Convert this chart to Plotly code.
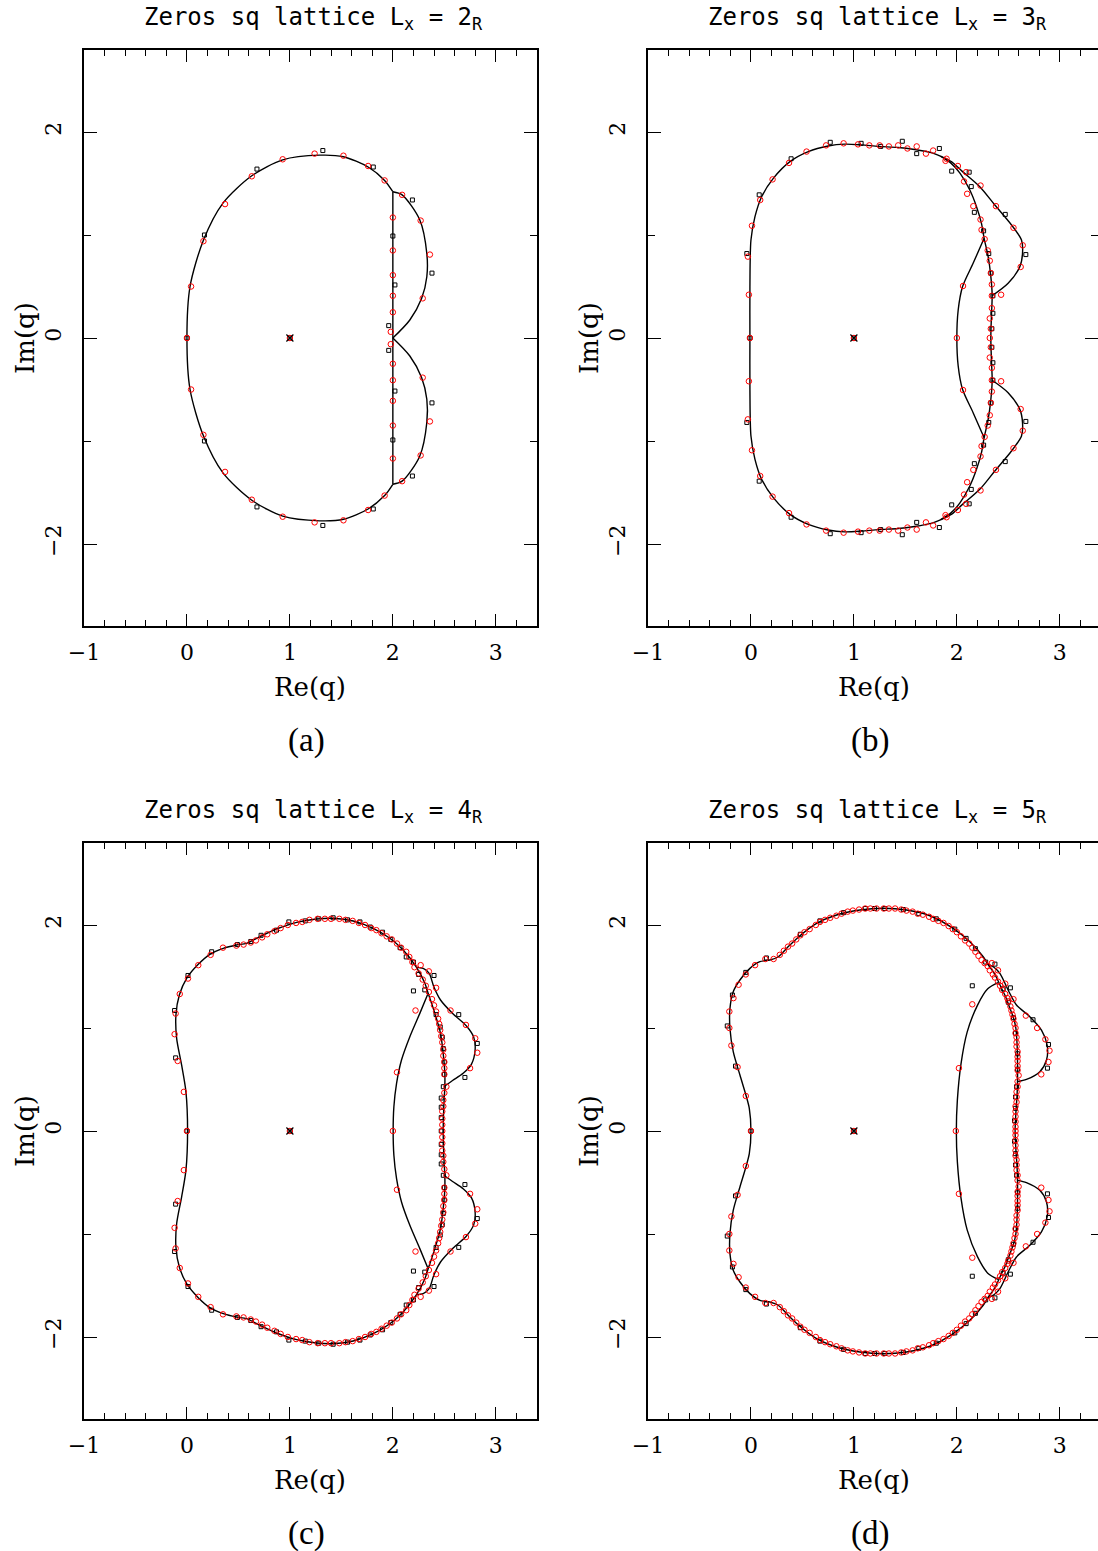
import plotly.graph_objects as go

W, H = 1098, 1551

# ---------------- data (upper half-plane; zeros come in conjugate pairs) ----------------
# Panel (a)  L_x = 2_R
A_OUTER = [(2.00, 1.42), (1.92, 1.53), (1.76, 1.66), (1.52, 1.76), (1.29, 1.775), (0.93, 1.73),
           (0.63, 1.575), (0.35, 1.31), (0.16, 0.95), (0.03, 0.50), (0.00, 0.00)]
A_LOBE = [(2.00, 1.42), (2.09, 1.39), (2.26, 1.15), (2.33, 0.82), (2.33, 0.595), (2.28, 0.385),
          (2.165, 0.175), (2.00, 0.00)]
A_CHORD = [(2.00, 1.42), (2.00, 0.00)]
A_RED = [(0.04, 0.50), (0.16, 0.94), (0.37, 1.30), (0.63, 1.57), (0.93, 1.735), (1.24, 1.79),
         (1.52, 1.77), (1.76, 1.67), (1.92, 1.53), (2.09, 1.39), (2.27, 1.14), (2.36, 0.81),
         (2.29, 0.385), (2.00, 1.17), (2.00, 0.85), (2.00, 0.61), (2.00, 0.41), (2.00, 0.25),
         (1.98, 0.06)]
A_RED_REAL = [0.00, 1.00]
A_BLK = [(1.32, 1.82), (0.68, 1.64), (0.17, 1.00), (1.81, 1.66), (2.19, 1.34), (2.38, 0.63),
         (2.00, 0.99), (2.02, 0.515), (1.96, 0.12)]
A_BLK_REAL = [0.00, 1.00]

# Panel (b)  L_x = 3_R
B_MAIN = [(1.84, 1.765), (1.75, 1.80), (1.59, 1.83), (1.43, 1.85), (1.24, 1.86), (1.07, 1.875),
          (0.91, 1.882), (0.75, 1.864), (0.557, 1.809), (0.379, 1.712), (0.217, 1.55),
          (0.104, 1.372), (0.039, 1.178), (0.00, 0.951), (-0.01, 0.498), (-0.01, 0.00)]
B_INNER = [(1.84, 1.765), (1.94, 1.70), (2.03, 1.60), (2.126, 1.437), (2.191, 1.275),
           (2.239, 1.113), (2.265, 0.968), (2.304, 0.79), (2.327, 0.628), (2.343, 0.417),
           (2.337, 0.24), (2.33, 0.00)]
B_OUTER = [(1.84, 1.765), (1.95, 1.71), (2.05, 1.62), (2.223, 1.469), (2.369, 1.291),
           (2.531, 1.097), (2.628, 0.951), (2.638, 0.822), (2.612, 0.693), (2.498, 0.531),
           (2.343, 0.41)]
B_LOBE = [(2.265, 0.968), (2.158, 0.725), (2.055, 0.498), (2.013, 0.272), (2.00, 0.00)]
B_RED = [(-0.02, 0.42), (-0.03, 0.79), (0.01, 1.09), (0.09, 1.34), (0.21, 1.54), (0.37, 1.70),
         (0.54, 1.81), (0.73, 1.87), (0.90, 1.89), (1.04, 1.88), (1.15, 1.87), (1.25, 1.87),
         (1.34, 1.86), (1.43, 1.87), (1.52, 1.84), (1.61, 1.86), (1.70, 1.79), (1.77, 1.82),
         (1.89, 1.72), (1.90, 1.74), (2.01, 1.67), (2.09, 1.61), (2.23, 1.48), (2.38, 1.28),
         (2.55, 1.07), (2.64, 0.90), (2.62, 0.69), (2.43, 0.42), (2.07, 1.52), (2.10, 1.40),
         (2.16, 1.28), (2.23, 1.15), (2.24, 1.05), (2.27, 0.96), (2.30, 0.85), (2.32, 0.75),
         (2.33, 0.63), (2.34, 0.52), (2.34, 0.41), (2.34, 0.29), (2.32, 0.19), (2.33, 0.09),
         (2.06, 0.505)]
B_RED_REAL = [-0.01, 1.00, 2.00, 2.32]
B_BLK = [(-0.04, 0.82), (0.08, 1.39), (0.39, 1.74), (0.77, 1.90), (1.07, 1.89), (1.26, 1.86),
         (1.47, 1.91), (1.61, 1.79), (1.83, 1.84), (1.95, 1.62), (2.12, 1.61), (2.14, 1.47),
         (2.17, 1.22), (2.26, 1.04), (2.31, 0.82), (2.33, 0.63), (2.35, 0.41), (2.35, 0.24),
         (2.34, 0.09), (2.47, 1.20), (2.67, 0.81)]
B_BLK_REAL = [-0.01, 1.00]

# Panel (c)  L_x = 4_R
C_MAIN = [(2.489, 0.00), (2.495, 0.236), (2.505, 0.437), (2.505, 0.56), (2.489, 0.754),
          (2.463, 0.948), (2.408, 1.142), (2.343, 1.337), (2.311, 1.434), (2.230, 1.589),
          (2.100, 1.757), (1.971, 1.871), (1.809, 1.968), (1.615, 2.039), (1.421, 2.065),
          (1.259, 2.058), (1.065, 2.026), (0.871, 1.961), (0.709, 1.887), (0.579, 1.822),
          (0.482, 1.806), (0.353, 1.773), (0.223, 1.715), (0.110, 1.618), (-0.003, 1.482),
          (-0.074, 1.320), (-0.107, 1.126), (-0.100, 0.900), (-0.052, 0.641), (-0.010, 0.382),
          (0.006, 0.00)]
C_OUTER = [(2.230, 1.589), (2.295, 1.579), (2.353, 1.531), (2.398, 1.401), (2.463, 1.272),
           (2.586, 1.136), (2.715, 1.019), (2.786, 0.909), (2.799, 0.786), (2.764, 0.650),
           (2.683, 0.560), (2.58, 0.49), (2.505, 0.437)]
C_LOBE = [(2.343, 1.337), (2.262, 1.142), (2.165, 0.916), (2.084, 0.689), (2.036, 0.463),
          (2.010, 0.236), (2.003, 0.00)]
C_RED = [(-0.03, 0.38), (-0.09, 0.68), (-0.12, 0.94), (-0.11, 1.14), (-0.07, 1.33), (0.01, 1.48),
         (0.11, 1.61), (0.23, 1.71), (0.35, 1.78), (0.48, 1.80), (0.55, 1.81), (0.62, 1.83),
         (0.67, 1.85), (0.73, 1.88), (0.78, 1.91), (0.85, 1.94), (0.91, 1.97), (0.98, 2.00),
         (1.06, 2.02), (1.12, 2.03), (1.19, 2.05), (1.27, 2.06), (1.34, 2.06), (1.40, 2.06),
         (1.48, 2.06), (1.54, 2.05), (1.61, 2.04), (1.67, 2.02), (1.73, 2.00), (1.79, 1.97),
         (1.84, 1.95), (1.89, 1.92), (1.94, 1.89), (1.99, 1.86), (2.04, 1.82), (2.08, 1.78),
         (2.13, 1.74), (2.16, 1.69), (2.19, 1.64), (2.21, 1.59), (2.25, 1.53), (2.29, 1.47),
         (2.32, 1.41), (2.35, 1.35), (2.38, 1.28), (2.40, 1.22), (2.42, 1.16), (2.44, 1.09),
         (2.45, 1.04), (2.46, 0.98), (2.47, 0.92), (2.48, 0.86), (2.49, 0.79), (2.49, 0.73),
         (2.50, 0.67), (2.50, 0.61), (2.50, 0.55), (2.52, 0.43), (2.50, 0.37), (2.49, 0.30),
         (2.49, 0.24), (2.48, 0.19), (2.48, 0.12), (2.48, 0.06),
         (2.27, 1.61), (2.35, 1.55), (2.42, 1.39), (2.56, 1.17), (2.71, 1.03), (2.80, 0.90),
         (2.82, 0.76), (2.75, 0.61), (2.22, 1.17), (2.04, 0.57)]
C_RED_REAL = [0.00, 1.00, 2.00, 2.48]
C_BLK = [(-0.12, 1.17), (-0.11, 0.71), (0.01, 1.51), (0.24, 1.74), (0.49, 1.81), (0.62, 1.84),
         (0.72, 1.90), (0.87, 1.95), (0.99, 2.03), (1.15, 2.04), (1.28, 2.06), (1.42, 2.07),
         (1.56, 2.05), (1.68, 2.03), (1.78, 1.98), (1.90, 1.93), (1.98, 1.86), (2.07, 1.78),
         (2.13, 1.69), (2.20, 1.64), (2.25, 1.52), (2.31, 1.37), (2.20, 1.36), (2.40, 1.51),
         (2.64, 1.13), (2.82, 0.85), (2.70, 0.52), (2.42, 1.13), (2.46, 1.01), (2.48, 0.91),
         (2.49, 0.80), (2.50, 0.67), (2.50, 0.55), (2.49, 0.43), (2.47, 0.32), (2.47, 0.23),
         (2.47, 0.13)]
C_BLK_REAL = [0.00, 1.00, 2.47]

# Panel (d)  L_x = 5_R
D_MAIN = [(2.566, 0.00), (2.573, 0.171), (2.585, 0.35), (2.589, 0.479), (2.590, 0.60),
          (2.586, 0.818), (2.573, 1.00), (2.550, 1.10), (2.515, 1.191), (2.475, 1.30),
          (2.434, 1.385), (2.385, 1.49), (2.353, 1.547), (2.30, 1.62), (2.256, 1.692),
          (2.126, 1.838), (1.964, 1.967), (1.738, 2.090), (1.511, 2.145), (1.285, 2.162),
          (1.058, 2.145), (0.832, 2.097), (0.638, 2.016), (0.476, 1.896), (0.346, 1.773),
          (0.265, 1.692), (0.184, 1.660), (0.087, 1.644), (-0.010, 1.579), (-0.107, 1.466),
          (-0.172, 1.352), (-0.204, 1.191), (-0.204, 0.997), (-0.172, 0.770), (-0.107, 0.543),
          (-0.049, 0.349), (-0.016, 0.220), (0.00, 0.00)]
D_OUTER = [(2.30, 1.62), (2.36, 1.59), (2.418, 1.53), (2.498, 1.369), (2.579, 1.223),
           (2.709, 1.110), (2.822, 0.98), (2.877, 0.835), (2.871, 0.689), (2.806, 0.576),
           (2.676, 0.501), (2.589, 0.479)]
D_LOBE = [(2.40, 1.44), (2.30, 1.38), (2.20, 1.22), (2.10, 0.96), (2.04, 0.65), (2.005, 0.30),
          (1.995, 0.00)]
D_RED = [(-0.05, 0.34), (-0.13, 0.62), (-0.19, 0.83), (-0.21, 1.00), (-0.21, 1.16), (-0.17, 1.29),
         (-0.12, 1.42), (-0.05, 1.52), (0.04, 1.61), (0.14, 1.67), (0.22, 1.67), (0.28, 1.71),
         (0.32, 1.75), (0.36, 1.79), (0.40, 1.82), (0.44, 1.86), (0.48, 1.90), (0.52, 1.93),
         (0.57, 1.96), (0.63, 2.00), (0.67, 2.03), (0.72, 2.05), (0.77, 2.07), (0.83, 2.09),
         (0.88, 2.11), (0.94, 2.13), (0.99, 2.14), (1.05, 2.15), (1.11, 2.16), (1.16, 2.16),
         (1.22, 2.16), (1.29, 2.16), (1.34, 2.16), (1.40, 2.16), (1.46, 2.15), (1.51, 2.14),
         (1.57, 2.13), (1.62, 2.11), (1.67, 2.10), (1.73, 2.08), (1.77, 2.06), (1.82, 2.04),
         (1.87, 2.02), (1.92, 1.99), (1.96, 1.96), (2.00, 1.93), (2.04, 1.89), (2.08, 1.85),
         (2.12, 1.82), (2.15, 1.78), (2.18, 1.74), (2.21, 1.70), (2.24, 1.66), (2.27, 1.63),
         (2.30, 1.60), (2.32, 1.56), (2.35, 1.52), (2.37, 1.49), (2.40, 1.45), (2.42, 1.41),
         (2.44, 1.37), (2.47, 1.33), (2.49, 1.29), (2.50, 1.26), (2.52, 1.21), (2.53, 1.17),
         (2.54, 1.13), (2.55, 1.09), (2.56, 1.04), (2.57, 1.00), (2.57, 0.95), (2.58, 0.91),
         (2.58, 0.86), (2.58, 0.82), (2.59, 0.77), (2.59, 0.72), (2.59, 0.68), (2.59, 0.63),
         (2.59, 0.59), (2.60, 0.54), (2.59, 0.48), (2.59, 0.43), (2.58, 0.38), (2.58, 0.33),
         (2.58, 0.28), (2.57, 0.24), (2.57, 0.19), (2.57, 0.14), (2.57, 0.09), (2.57, 0.04),
         (2.34, 1.63), (2.40, 1.56), (2.47, 1.43), (2.55, 1.28), (2.67, 1.12), (2.78, 1.00),
         (2.86, 0.89), (2.90, 0.78), (2.89, 0.67), (2.82, 0.55), (2.15, 1.23), (2.02, 0.61)]
D_RED_REAL = [0.00, 1.00, 1.99, 2.57]
D_BLK = [(-0.23, 1.02), (-0.18, 1.32), (-0.15, 0.63), (-0.05, 1.54), (0.15, 1.68), (0.48, 1.91),
         (0.67, 2.04), (0.90, 2.12), (1.11, 2.16), (1.20, 2.16), (1.30, 2.16), (1.48, 2.15),
         (1.63, 2.11), (1.80, 2.06), (1.98, 1.96), (2.09, 1.87), (2.18, 1.77), (2.28, 1.64),
         (2.37, 1.62), (2.15, 1.41), (2.52, 1.39), (2.74, 1.08), (2.89, 0.84), (2.88, 0.61),
         (2.58, 0.43), (2.57, 0.95), (2.55, 1.10), (2.50, 1.25), (2.45, 1.38), (2.59, 0.75),
         (2.59, 0.60), (2.57, 0.33), (2.57, 0.22), (2.56, 0.10)]
D_BLK_REAL = [0.00, 1.00]

TITLES = ["Zeros sq lattice L<sub>x</sub> = 2<sub>R</sub>",
          "Zeros sq lattice L<sub>x</sub> = 3<sub>R</sub>",
          "Zeros sq lattice L<sub>x</sub> = 4<sub>R</sub>",
          "Zeros sq lattice L<sub>x</sub> = 5<sub>R</sub>"]
CAPTIONS = ["(a)", "(b)", "(c)", "(d)"]
X_LABEL, Y_LABEL = "Re(q)", "Im(q)"
Y_RANGE = [-2.8, 2.8]
CENTER = [(1.0, 0.0)]


# ---------------- helpers ----------------
def loop(pts):
    """curve in the upper half + its complex-conjugate image traversed back"""
    xs = [p[0] for p in pts] + [p[0] for p in reversed(pts[:-1])]
    ys = [p[1] for p in pts] + [-p[1] for p in reversed(pts[:-1])]
    return xs, ys


def pair(pts):
    """open arc in the upper half and its conjugate image as a separate piece"""
    xs = [p[0] for p in pts] + [None] + [p[0] for p in pts]
    ys = [p[1] for p in pts] + [None] + [-p[1] for p in pts]
    return xs, ys


def cloud(top, real):
    xs = [p[0] for p in top] + [p[0] for p in top] + list(real)
    ys = [p[1] for p in top] + [-p[1] for p in top] + [0.0] * len(real)
    return xs, ys


panels = [
    dict(loops=[A_OUTER], pairs=[A_LOBE, A_CHORD], red=(A_RED, A_RED_REAL), blk=(A_BLK, A_BLK_REAL)),
    dict(loops=[B_MAIN, B_INNER, B_LOBE], pairs=[B_OUTER], red=(B_RED, B_RED_REAL), blk=(B_BLK, B_BLK_REAL)),
    dict(loops=[C_MAIN, C_LOBE], pairs=[C_OUTER], red=(C_RED, C_RED_REAL), blk=(C_BLK, C_BLK_REAL)),
    dict(loops=[D_MAIN, D_LOBE], pairs=[D_OUTER], red=(D_RED, D_RED_REAL), blk=(D_BLK, D_BLK_REAL)),
]

# pixel boxes of the four frames (left, right, top, bottom)
UNIT = 102.95
FULLW = 4.4 * UNIT
BOXES = [(84, 84 + FULLW, 49.6, 626.4),
         (648, 1098, 49.6, 626.4),
         (84, 84 + FULLW, 842.6, 1419.4),
         (648, 1098, 842.6, 1419.4)]

fig = go.Figure()
lay = {}
annotations = []

tickfont = dict(family="DejaVu Serif", size=22, color="black")
minor_x = dict(ticks="inside", ticklen=7, tickwidth=1.3, tickcolor="black", dtick=0.2, tick0=0, showgrid=False)
minor_y = dict(ticks="inside", ticklen=7, tickwidth=1.3, tickcolor="black", dtick=1, tick0=0, showgrid=False)

for k, (pan, box) in enumerate(zip(panels, BOXES), start=1):
    xl, xr, yt, yb = box
    xref = "x" if k == 1 else f"x{k}"
    yref = "y" if k == 1 else f"y{k}"
    xr_val = -1.0 + (xr - xl) / UNIT
    xdom = [xl / W, xr / W]
    ydom = [1 - yb / H, 1 - yt / H]

    common = dict(showgrid=False, zeroline=False, showline=True, linecolor="black", linewidth=1.5,
                  ticks="inside", ticklen=13, tickwidth=1.3, tickcolor="black", mirror=False,
                  automargin=False)
    lay[f"xaxis{'' if k == 1 else k}"] = dict(
        domain=xdom, range=[-1.0, xr_val], anchor=yref, tickmode="linear", tick0=0, dtick=1,
        minor=minor_x, tickfont=tickfont, ticklabelstandoff=5, **common)
    lay[f"yaxis{'' if k == 1 else k}"] = dict(
        domain=ydom, range=Y_RANGE, anchor=xref, tickmode="linear", tick0=0, dtick=2,
        minor=minor_y, tickfont=tickfont, tickangle=-90, ticklabelstandoff=12, **common)
    # top and right frames with inward ticks
    oid = k + 4
    lay[f"xaxis{oid}"] = dict(
        domain=xdom, range=[-1.0, xr_val], anchor=yref, overlaying=xref, side="top",
        tickmode="linear", tick0=0, dtick=1, minor=minor_x, showticklabels=False, **common)
    common3 = dict(common)
    common3["showline"] = k in (1, 3)
    lay[f"yaxis{oid}"] = dict(
        domain=ydom, range=Y_RANGE, anchor=xref, overlaying=yref, side="right",
        tickmode="linear", tick0=0, dtick=2, minor=minor_y, showticklabels=False, **common3)
    fig.add_trace(go.Scatter(x=[], y=[], xaxis=f"x{oid}", yaxis=f"y{oid}",
                             mode="markers", hoverinfo="skip", showlegend=False))

    # curves
    lx, ly = [], []
    for c in pan["loops"]:
        a, b = loop(c)
        lx += a + [None]
        ly += b + [None]
    for c in pan["pairs"]:
        a, b = pair(c)
        lx += a + [None]
        ly += b + [None]
    fig.add_trace(go.Scatter(x=lx, y=ly, xaxis=xref, yaxis=yref, mode="lines",
                             line=dict(color="black", width=1.4, shape="spline", smoothing=0.8),
                             connectgaps=False, hoverinfo="skip", showlegend=False))
    # zeros: black squares and red circles
    bx, by = cloud(*pan["blk"])
    fig.add_trace(go.Scatter(x=bx, y=by, xaxis=xref, yaxis=yref, mode="markers",
                             marker=dict(symbol="square-open", size=4, color="black",
                                         line=dict(width=1, color="black")),
                             showlegend=False))
    rx, ry = cloud(*pan["red"])
    fig.add_trace(go.Scatter(x=rx, y=ry, xaxis=xref, yaxis=yref, mode="markers",
                             marker=dict(symbol="circle-open", size=5.5, color="red",
                                         line=dict(width=1, color="red")),
                             showlegend=False))
    fig.add_trace(go.Scatter(x=[p[0] for p in CENTER], y=[p[1] for p in CENTER], xaxis=xref,
                             yaxis=yref, mode="markers",
                             marker=dict(symbol="x-thin-open", size=7, color="black",
                                         line=dict(width=1.2, color="black")),
                             showlegend=False))

    # text
    mid = xl + FULLW / 2
    annotations.append(dict(text=TITLES[k - 1], xref="paper", yref="paper", x=(mid + 3) / W,
                            y=1 - (yt - 31) / H, xanchor="center", yanchor="middle", showarrow=False,
                            font=dict(family="DejaVu Sans Mono", size=24, color="black")))
    annotations.append(dict(text=X_LABEL, xref="paper", yref="paper", x=mid / W,
                            y=1 - (yb + 61) / H, xanchor="center", yanchor="middle", showarrow=False,
                            font=dict(family="DejaVu Serif", size=26, color="black")))
    annotations.append(dict(text=Y_LABEL, xref="paper", yref="paper", x=(xl - 59) / W,
                            y=1 - ((yt + yb) / 2) / H, xanchor="center", yanchor="middle",
                            showarrow=False, textangle=-90,
                            font=dict(family="DejaVu Serif", size=26, color="black")))
    annotations.append(dict(text=CAPTIONS[k - 1], xref="paper", yref="paper", x=(mid - 4) / W,
                            y=1 - (yb + 114) / H, xanchor="center", yanchor="middle",
                            showarrow=False,
                            font=dict(family="Liberation Serif", size=33, color="black")))

fig.update_layout(width=W, height=H, autosize=False,
                  margin=dict(l=0, r=0, t=0, b=0, pad=0, autoexpand=False),
                  paper_bgcolor="white", plot_bgcolor="white", showlegend=False,
                  annotations=annotations, **lay)

fig.write_html("out.html", config={"responsive": False, "displayModeBar": False},
               post_script="document.body.style.margin='0px';document.body.style.padding='0px';"
                           "document.documentElement.style.overflow='hidden';"
                           "document.body.style.overflow='hidden';")
